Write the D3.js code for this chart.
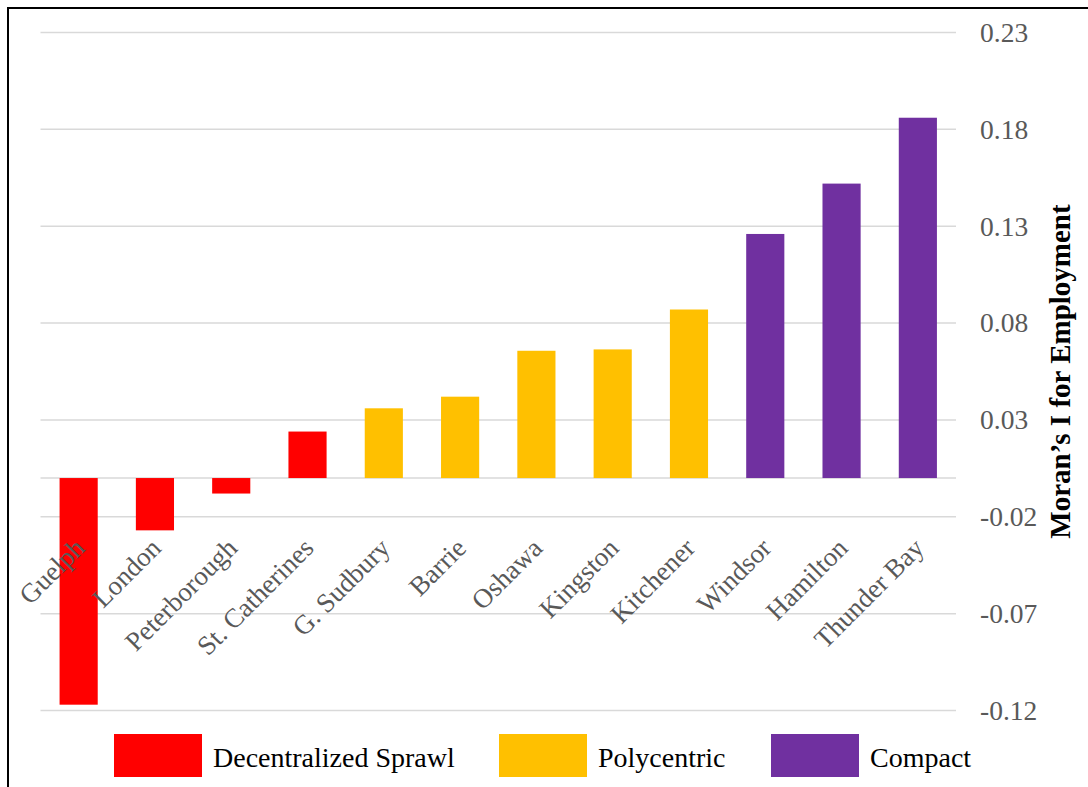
<!DOCTYPE html>
<html>
<head>
<meta charset="utf-8">
<script src="https://cdn.jsdelivr.net/npm/d3@7"></script>
<style>
  html, body { margin: 0; padding: 0; background: #ffffff; }
  svg { display: block; }
</style>
</head>
<body>
<div id="chart"></div>
<script>
// Moran's I for employment by city, grouped by urban form
const cities = ["Guelph", "London", "Peterborough", "St. Catherines", "G. Sudbury", "Barrie",
                "Oshawa", "Kingston", "Kitchener", "Windsor", "Hamilton", "Thunder Bay"];
const moransI = [-0.117, -0.027, -0.008, 0.024, 0.036, 0.042,
                 0.0657, 0.0664, 0.087, 0.126, 0.152, 0.186];
const cityForm = ["Decentralized Sprawl", "Decentralized Sprawl", "Decentralized Sprawl", "Decentralized Sprawl",
                  "Polycentric", "Polycentric", "Polycentric", "Polycentric", "Polycentric",
                  "Compact", "Compact", "Compact"];
const formNames = ["Decentralized Sprawl", "Polycentric", "Compact"];
const formColors = ["#FF0000", "#FFC000", "#7030A0"];
const tickValues = [-0.12, -0.07, -0.02, 0.03, 0.08, 0.13, 0.18, 0.23];
const tickLabels = ["-0.12", "-0.07", "-0.02", "0.03", "0.08", "0.13", "0.18", "0.23"];
const axisTitle = "Moran\u2019s I for Employment";

const W = 1088, H = 787;
const serif = "'Liberation Serif', 'Times New Roman', serif";

const svg = d3.select("#chart").append("svg")
  .attr("width", W).attr("height", H);

svg.append("rect").attr("width", W).attr("height", H).attr("fill", "#ffffff");

// plot area
const plotLeft = 40.5, plotRight = 956;
const x = d3.scaleBand().domain(cities).range([plotLeft, plotRight])
  .paddingInner(0.5).paddingOuter(0.25);
const y = d3.scaleLinear().domain([-0.12, 0.23]).range([710.5, 32.5]);
const color = d3.scaleOrdinal().domain(formNames).range(formColors);

// horizontal gridlines, plus the zero line
const gridVals = tickValues.concat([0]);
svg.append("g").selectAll("line").data(gridVals).join("line")
  .attr("x1", plotLeft).attr("x2", plotRight)
  .attr("y1", d => y(d)).attr("y2", d => y(d))
  .attr("stroke", "#d9d9d9").attr("stroke-width", 1.5);

// bars
svg.append("g").selectAll("rect").data(cities).join("rect")
  .attr("x", d => x(d))
  .attr("width", x.bandwidth())
  .attr("y", (d, i) => y(Math.max(0, moransI[i])))
  .attr("height", (d, i) => Math.abs(y(moransI[i]) - y(0)))
  .attr("fill", (d, i) => color(cityForm[i]));

// right value axis
const labelOf = new Map(tickValues.map((v, i) => [v, tickLabels[i]]));
const yAxis = svg.append("g")
  .attr("transform", `translate(${plotRight},0)`)
  .call(d3.axisRight(y).tickValues(tickValues).tickSize(0).tickPadding(24)
    .tickFormat(v => labelOf.get(v)));
yAxis.select(".domain").remove();
yAxis.selectAll("text")
  .attr("font-family", serif).attr("font-size", 27.5).attr("fill", "#595959");

// axis title
svg.append("text")
  .attr("transform", `translate(1070,${(y(0.23) + y(-0.12)) / 2}) rotate(-90)`)
  .attr("text-anchor", "middle")
  .attr("font-family", serif).attr("font-size", 29).attr("font-weight", "bold")
  .attr("fill", "#000000")
  .text(axisTitle);

// category labels, slanted
svg.append("g").selectAll("text").data(cities).join("text")
  .attr("transform", d => `translate(${x(d) + x.bandwidth() / 2 + 1},543) rotate(-45)`)
  .attr("text-anchor", "end")
  .attr("dy", "0.35em")
  .attr("font-family", serif).attr("font-size", 27).attr("fill", "#595959")
  .text(d => d);

// legend
const legendX = [114, 499, 771];
const legend = svg.append("g").selectAll("g").data(formNames).join("g")
  .attr("transform", (d, i) => `translate(${legendX[i]},734)`);
legend.append("rect").attr("width", 88).attr("height", 43)
  .attr("fill", d => color(d));
legend.append("text").attr("x", 99).attr("y", 33)
  .attr("font-family", serif).attr("font-size", 28).attr("fill", "#000000")
  .text(d => d);

// outer frame
svg.append("line").attr("x1", 8).attr("x2", W).attr("y1", 8).attr("y2", 8)
  .attr("stroke", "#000000").attr("stroke-width", 2);
svg.append("line").attr("x1", 8).attr("x2", 8).attr("y1", 7).attr("y2", H)
  .attr("stroke", "#000000").attr("stroke-width", 2);
</script>
</body>
</html>
